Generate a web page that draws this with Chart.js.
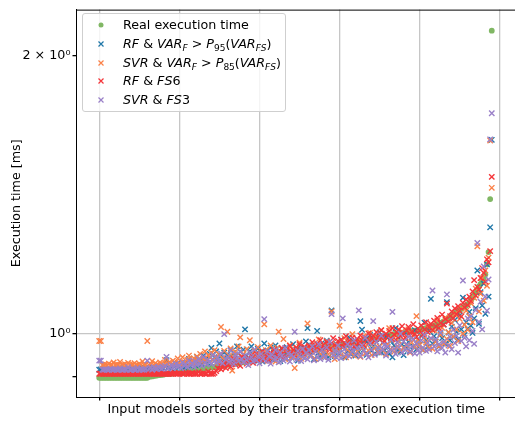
<!DOCTYPE html>
<html>
<head>
<meta charset="utf-8">
<script src="https://cdn.jsdelivr.net/npm/chart.js@4.4.1/dist/chart.umd.min.js"></script>
<style>
  html, body { margin: 0; padding: 0; background: #fff; overflow: hidden; }
  #wrap { position: relative; width: 522px; height: 421px; }
  #legend {
    position: absolute; left: 82px; top: 13px; width: 202px; height: 97px;
    border: 1px solid #cfcfcf; border-radius: 3px; background: rgba(255,255,255,0.8);
    font-family: "DejaVu Sans", sans-serif; font-size: 12.7px; color: #000;
  }
  #legend .row { position: absolute; left: 0; height: 18px; line-height: 18px; white-space: nowrap; }
  #legend svg { position: absolute; left: 14px; top: 5px; }
  #legend .txt { position: absolute; left: 40px; top: 0; }
  #legend i { font-style: oblique; }
  #legend .sb { position: relative; top: 3px; font-size: 9px; }
</style>
</head>
<body>
<div id="wrap">
  <canvas id="chart" width="522" height="421"></canvas>
  <div id="legend">
    <div class="row" style="top:2px"><svg width="8" height="8"><circle cx="4" cy="4" r="2.5" fill="#80b764"/></svg><span class="txt">Real execution time</span></div>
    <div class="row" style="top:21px"><svg width="8" height="8"><path d="M1.5 1.5L6.5 6.5M6.5 1.5L1.5 6.5" stroke="#2077a8" stroke-width="1.2"/></svg><span class="txt"><i>RF</i> &amp; <i>VAR</i><span class="sb"><i>F</i></span> &gt; <i>P</i><span class="sb">95</span>(<i>VAR</i><span class="sb"><i>FS</i></span>)</span></div>
    <div class="row" style="top:40px"><svg width="8" height="8"><path d="M1.5 1.5L6.5 6.5M6.5 1.5L1.5 6.5" stroke="#fb8148" stroke-width="1.2"/></svg><span class="txt"><i>SVR</i> &amp; <i>VAR</i><span class="sb"><i>F</i></span> &gt; <i>P</i><span class="sb">85</span>(<i>VAR</i><span class="sb"><i>FS</i></span>)</span></div>
    <div class="row" style="top:58px"><svg width="8" height="8"><path d="M1.5 1.5L6.5 6.5M6.5 1.5L1.5 6.5" stroke="#f5363a" stroke-width="1.2"/></svg><span class="txt"><i>RF</i> &amp; <i>FS</i>6</span></div>
    <div class="row" style="top:77px"><svg width="8" height="8"><path d="M1.5 1.5L6.5 6.5M6.5 1.5L1.5 6.5" stroke="#9a80c8" stroke-width="1.2"/></svg><span class="txt"><i>SVR</i> &amp; <i>FS</i>3</span></div>
  </div>
</div>
<script>
// models are sorted by real execution time; one sample every RANK_STEP ranks
const RANK_STEP = 2

const xTickValues = [0, 100, 200, 300, 400, 500]
const yTickValues = [0.9, 1, 2]
const yTickLabels = ['', '10⁰', '2 × 10⁰']

// Real execution time [ms]
const realTime = [
  0.897,0.897,0.897,0.897,0.897,0.897,0.897,0.897,0.897,0.897,
  0.897,0.897,0.897,0.897,0.897,0.897,0.897,0.897,0.897,0.897,
  0.897,0.897,0.897,0.897,0.897,0.897,0.897,0.897,0.897,0.897,
  0.897,0.899,0.900,0.900,0.901,0.902,0.902,0.903,0.903,0.904,
  0.904,0.905,0.905,0.906,0.906,0.906,0.907,0.907,0.908,0.908,
  0.909,0.909,0.910,0.910,0.911,0.912,0.912,0.913,0.914,0.914,
  0.915,0.916,0.917,0.917,0.918,0.918,0.919,0.919,0.920,0.920,
  0.921,0.921,0.922,0.922,0.923,0.923,0.924,0.925,0.925,0.926,
  0.927,0.927,0.928,0.929,0.929,0.930,0.930,0.931,0.932,0.932,
  0.933,0.933,0.934,0.935,0.935,0.936,0.937,0.937,0.938,0.939,
  0.940,0.941,0.941,0.942,0.942,0.943,0.944,0.944,0.945,0.946,
  0.946,0.947,0.948,0.948,0.949,0.950,0.951,0.951,0.952,0.953,
  0.954,0.954,0.955,0.956,0.957,0.959,0.959,0.960,0.960,0.961,
  0.961,0.962,0.963,0.963,0.964,0.964,0.965,0.966,0.966,0.967,
  0.967,0.968,0.969,0.969,0.970,0.970,0.971,0.972,0.972,0.973,
  0.974,0.974,0.975,0.976,0.976,0.977,0.978,0.978,0.979,0.980,
  0.980,0.981,0.982,0.983,0.984,0.984,0.985,0.986,0.987,0.987,
  0.988,0.989,0.990,0.990,0.991,0.992,0.993,0.993,0.994,0.995,
  0.996,0.997,0.998,0.999,1.000,1.001,1.001,1.002,1.003,1.003,
  1.004,1.005,1.005,1.006,1.007,1.007,1.008,1.009,1.009,1.010,
  1.011,1.012,1.013,1.014,1.015,1.016,1.017,1.019,1.020,1.021,
  1.023,1.024,1.026,1.028,1.030,1.032,1.035,1.038,1.041,1.044,
  1.047,1.050,1.053,1.056,1.059,1.062,1.065,1.068,1.071,1.074,
  1.077,1.082,1.088,1.095,1.102,1.110,1.118,1.126,1.133,1.140,
  1.150,1.160,1.190,1.227,1.400,2.130
]

// RF & VAR_F > P95(VAR_FS)
const rfVar95 = [
  0.915,0.916,0.915,0.917,0.916,0.915,0.918,0.916,0.915,0.917,
  0.916,0.918,0.915,0.917,0.916,0.919,0.917,0.916,0.918,0.915,
  0.917,0.916,0.919,0.918,0.916,0.917,0.920,0.918,0.916,0.919,
  0.917,0.920,0.918,0.921,0.919,0.917,0.922,0.920,0.918,0.921,
  0.919,0.923,0.937,0.920,0.924,0.918,0.926,0.921,0.925,0.930,
  0.922,0.928,0.924,0.920,0.931,0.925,0.940,0.923,0.929,0.934,
  0.926,0.945,0.930,0.936,0.928,0.948,0.933,0.941,0.930,0.952,
  0.966,0.938,0.944,0.958,0.935,0.977,0.948,0.940,0.955,0.932,
  0.950,0.943,0.961,0.936,0.954,0.946,0.970,0.939,0.957,0.944,
  0.962,1.012,0.948,0.940,0.958,0.970,0.945,0.936,0.953,0.964,
  0.941,0.957,0.934,0.977,0.949,0.960,0.944,0.967,0.938,0.955,
  0.972,0.946,0.959,0.935,0.964,0.952,0.941,0.968,0.947,0.958,
  0.943,0.975,0.951,0.962,0.936,0.970,0.954,0.945,0.966,0.982,
  1.015,0.958,0.949,0.972,0.940,0.963,1.008,0.955,0.946,0.978,
  0.959,0.950,0.984,0.944,0.968,1.061,0.957,0.947,0.975,0.962,
  0.953,0.986,0.967,0.944,0.973,0.958,0.992,0.951,0.964,0.979,
  0.948,0.970,0.957,1.033,1.011,0.962,0.985,0.950,0.976,0.998,
  0.959,0.971,0.953,0.988,0.966,1.004,0.955,0.979,0.961,0.994,
  0.968,0.952,0.983,0.944,0.972,1.015,0.960,0.990,0.957,0.975,
  0.949,1.003,0.966,0.981,0.958,0.992,0.970,1.010,0.963,0.986,
  0.974,0.996,0.961,1.029,0.985,0.969,1.008,1.092,0.977,0.995,
  0.982,1.012,0.969,1.000,0.990,1.024,0.976,1.083,1.004,0.985,
  1.019,0.993,1.036,1.006,0.987,1.048,1.012,1.095,0.998,1.030,
  1.014,1.057,1.021,1.003,1.040,1.067,1.172,1.026,1.110,1.074,
  1.134,1.052,1.190,1.098,1.305,1.623
]

// SVR & VAR_F > P85(VAR_FS)
const svrVar85 = [
  0.983,0.983,0.926,0.926,0.927,0.926,0.929,0.926,0.926,0.932,
  0.926,0.927,0.926,0.933,0.926,0.926,0.928,0.926,0.931,0.926,
  0.926,0.927,0.930,0.926,0.926,0.929,0.926,0.934,0.926,0.927,
  0.983,0.926,0.928,0.935,0.926,0.930,0.927,0.926,0.932,0.928,
  0.926,0.938,0.929,0.927,0.933,0.926,0.936,0.930,0.928,0.941,
  0.931,0.927,0.944,0.933,0.929,0.938,0.948,0.931,0.935,0.942,
  0.930,0.946,0.936,0.952,0.933,0.940,0.958,0.937,0.949,0.943,
  0.955,0.938,0.961,0.945,0.932,0.950,1.018,0.942,0.959,0.936,
  1.006,0.948,0.965,0.913,0.944,0.957,0.939,0.970,0.992,0.946,
  0.952,0.935,0.963,0.941,0.985,0.950,0.933,0.959,0.946,0.968,
  0.938,0.955,0.944,1.025,0.961,0.936,0.950,0.972,0.942,0.958,
  0.934,0.966,1.006,0.947,0.956,0.988,0.940,0.961,0.951,0.973,
  0.944,0.958,0.919,0.966,0.950,0.979,0.941,0.962,0.955,0.948,
  1.027,0.969,0.946,0.958,0.975,0.940,0.964,0.987,0.952,0.971,
  0.945,0.960,0.982,0.951,0.967,1.058,0.956,0.940,0.973,0.961,
  1.021,0.950,0.968,0.990,0.944,0.962,0.977,0.955,1.000,0.948,
  0.972,0.958,0.983,0.945,0.966,0.995,0.953,0.974,0.960,1.003,
  0.949,0.978,0.965,0.991,0.956,0.970,1.010,0.961,0.982,0.952,
  0.975,1.015,0.963,0.987,0.957,0.997,0.970,0.983,0.960,1.007,
  0.966,0.991,0.972,1.012,0.955,0.980,0.996,0.968,1.046,0.985,
  0.973,1.003,0.961,0.992,0.979,1.021,0.966,0.989,0.964,1.010,
  0.981,1.035,0.970,0.998,1.016,0.976,1.042,0.988,1.005,0.971,
  1.028,0.994,1.052,1.012,0.983,1.039,1.066,1.001,1.024,1.060,
  1.011,1.045,1.080,1.030,1.095,1.120,1.245,1.058,1.106,1.150,
  1.087,1.172,1.128,1.210,1.620,1.440
]

// RF & FS6
const rfFs6 = [
  0.906,0.906,0.906,0.906,0.906,0.906,0.906,0.906,0.906,0.906,
  0.906,0.906,0.906,0.906,0.906,0.906,0.906,0.906,0.906,0.906,
  0.906,0.906,0.906,0.906,0.906,0.906,0.906,0.906,0.906,0.906,
  0.906,0.906,0.906,0.906,0.906,0.906,0.906,0.906,0.906,0.906,
  0.906,0.906,0.906,0.906,0.906,0.906,0.906,0.908,0.906,0.906,
  0.906,0.907,0.906,0.906,0.909,0.906,0.906,0.906,0.908,0.906,
  0.906,0.906,0.910,0.906,0.906,0.907,0.906,0.906,0.911,0.906,
  0.906,0.906,0.908,0.912,0.918,0.925,0.916,0.921,0.930,0.919,
  0.926,0.934,0.922,0.929,0.940,0.927,0.931,0.936,0.924,0.945,
  0.933,0.938,0.929,0.942,0.936,0.948,0.931,0.940,0.952,0.937,
  0.944,0.939,0.958,0.946,0.941,0.950,0.936,0.955,0.947,0.962,
  0.943,0.951,0.957,0.948,0.966,0.953,0.945,0.960,0.952,0.971,
  0.956,0.962,0.949,0.967,0.958,0.975,0.961,0.954,0.969,0.963,
  0.958,0.972,0.966,0.980,0.961,0.970,0.976,0.964,0.985,0.968,
  0.974,0.966,0.981,0.971,0.962,0.978,0.990,0.973,0.968,0.983,
  0.976,0.986,0.970,0.979,0.995,0.974,0.984,0.978,0.991,0.969,
  0.982,0.988,0.977,0.997,0.985,0.973,0.992,0.986,1.002,0.981,
  0.990,0.996,0.984,1.005,0.993,0.987,1.010,0.995,0.983,1.001,
  0.994,1.008,0.990,1.015,0.999,0.986,1.004,1.012,0.995,1.020,
  1.002,0.991,1.009,1.018,0.997,1.006,1.025,1.001,0.993,1.014,
  1.008,1.022,0.999,1.012,1.030,1.005,1.017,1.026,1.010,1.034,
  1.020,1.041,1.015,1.028,1.050,1.024,1.038,1.079,1.032,1.046,
  1.058,1.040,1.066,1.051,1.072,1.060,1.045,1.081,1.069,1.090,
  1.075,1.098,1.086,1.112,1.144,1.101,1.125,1.118,1.150,1.179,
  1.165,1.140,1.205,1.196,1.230,1.480
]

// SVR & FS3
const svrFs3 = [
  0.936,0.936,0.915,0.915,0.916,0.915,0.915,0.917,0.915,0.915,
  0.916,0.915,0.915,0.918,0.915,0.915,0.916,0.915,0.921,0.915,
  0.915,0.917,0.915,0.915,0.919,0.915,0.916,0.915,0.915,0.917,
  0.936,0.917,0.919,0.915,0.921,0.918,0.916,0.922,0.919,0.917,
  0.920,0.924,0.945,0.918,0.921,0.926,0.919,0.923,0.929,0.921,
  0.925,0.919,0.932,0.924,0.927,0.921,0.936,0.925,0.930,0.922,
  0.934,0.926,0.940,0.929,0.924,0.945,0.931,0.927,0.938,0.933,
  0.928,0.949,0.936,0.931,0.943,0.934,0.953,0.930,1.000,0.939,
  0.945,0.933,0.960,0.938,0.928,0.951,0.942,0.935,0.957,0.940,
  0.932,0.948,0.938,0.926,0.955,0.944,0.934,0.962,0.937,0.947,
  0.930,0.952,0.941,1.038,0.935,0.958,0.946,0.929,0.950,0.939,
  0.961,0.943,0.932,0.955,0.947,0.936,0.966,0.941,0.953,0.934,
  0.950,0.944,1.006,0.938,0.959,0.948,0.935,0.964,0.942,0.954,
  0.939,0.961,0.948,0.970,0.937,0.957,0.945,0.975,0.940,0.962,
  0.951,0.943,0.967,0.938,0.981,1.051,0.949,0.960,0.944,0.972,
  0.955,0.942,1.040,0.963,0.950,0.975,0.946,0.968,0.958,0.985,
  0.951,0.966,1.061,0.947,0.972,0.959,0.991,0.953,0.944,0.978,
  0.962,1.033,0.950,0.981,0.967,0.955,0.996,0.963,0.974,0.948,
  0.970,0.958,0.986,1.057,0.964,0.952,0.979,0.968,1.001,0.955,
  0.982,0.961,0.974,0.993,0.957,0.969,0.988,0.953,0.976,0.962,
  0.955,0.985,0.967,0.998,0.959,0.978,0.962,0.990,1.115,0.970,
  0.987,0.958,0.975,1.004,0.966,0.981,0.955,1.104,0.972,0.993,
  0.963,1.011,0.978,0.996,0.955,1.022,0.983,1.143,0.991,0.970,
  1.040,0.985,1.046,1.008,0.976,1.062,1.255,1.031,1.084,1.012,
  1.184,1.098,1.060,1.146,1.625,1.734
]

const FONT = { family: '"DejaVu Sans", sans-serif', size: 12.7 }
const GRID = '#c6c6c6'

const toPoints = arr => arr.map((y, i) => ({ x: i * RANK_STEP, y: y }))

const crossSet = (label, values, color, order) => ({
  label: label,
  data: toPoints(values),
  pointStyle: 'crossRot',
  pointRadius: 3.8,
  borderColor: color,
  backgroundColor: color,
  pointBorderWidth: 1.4,
  showLine: false,
  order: order
})

const topSpine = {
  id: 'topSpine',
  afterDraw(chart) {
    const { ctx, chartArea } = chart
    ctx.save()
    ctx.strokeStyle = '#000'
    ctx.lineWidth = 1
    ctx.beginPath()
    ctx.moveTo(chartArea.left, chartArea.top + 0.5)
    ctx.lineTo(chartArea.right, chartArea.top + 0.5)
    ctx.stroke()
    ctx.restore()
  }
}

new Chart(document.getElementById('chart'), {
  type: 'scatter',
  data: {
    datasets: [
      {
        label: 'Real execution time',
        data: toPoints(realTime),
        pointStyle: 'circle',
        pointRadius: 2.9,
        borderWidth: 0,
        backgroundColor: '#80b764',
        borderColor: '#80b764',
        order: 5
      },
      crossSet('RF & VAR_F > P95(VAR_FS)', rfVar95, '#2077a8', 4),
      crossSet('SVR & VAR_F > P85(VAR_FS)', svrVar85, '#fb8148', 3),
      crossSet('RF & FS6', rfFs6, '#f5363a', 2),
      crossSet('SVR & FS3', svrFs3, '#9a80c8', 1)
    ]
  },
  options: {
    responsive: false,
    animation: false,
    devicePixelRatio: 1,
    layout: { padding: { left: 0, top: 7, right: 2, bottom: 0 } },
    plugins: {
      legend: { display: false },
      tooltip: { enabled: false }
    },
    scales: {
      x: {
        type: 'linear',
        min: -29,
        max: 521,
        afterBuildTicks: s => { s.ticks = xTickValues.map(v => ({ value: v })) },
        afterFit: s => { s.height = 24 },
        ticks: { callback: () => '', autoSkip: false },
        grid: { color: GRID, lineWidth: 1.3, tickColor: '#000', tickLength: 3.5 },
        border: { color: '#000', width: 1 },
        title: {
          display: true,
          text: 'Input models sorted by their transformation execution time',
          color: '#000',
          font: FONT,
          padding: { top: 0, bottom: 3.5 }
        }
      },
      y: {
        type: 'logarithmic',
        min: 0.855,
        max: 2.245,
        afterBuildTicks: s => { s.ticks = yTickValues.map(v => ({ value: v })) },
        afterFit: s => { s.width = 76 },
        ticks: {
          autoSkip: false,
          padding: 2,
          color: '#000',
          font: FONT,
          callback: v => yTickLabels[yTickValues.indexOf(v)]
        },
        grid: {
          color: c => (c.tick && c.tick.value === 1 ? GRID : 'rgba(0,0,0,0)'),
          lineWidth: 1.3,
          tickColor: '#000',
          tickLength: 3.5
        },
        border: { color: '#000', width: 1 },
        title: {
          display: true,
          text: 'Execution time [ms]',
          color: '#000',
          font: FONT,
          padding: { top: 9, bottom: 0 }
        }
      }
    }
  },
  plugins: [topSpine]
})
</script>
</body>
</html>
